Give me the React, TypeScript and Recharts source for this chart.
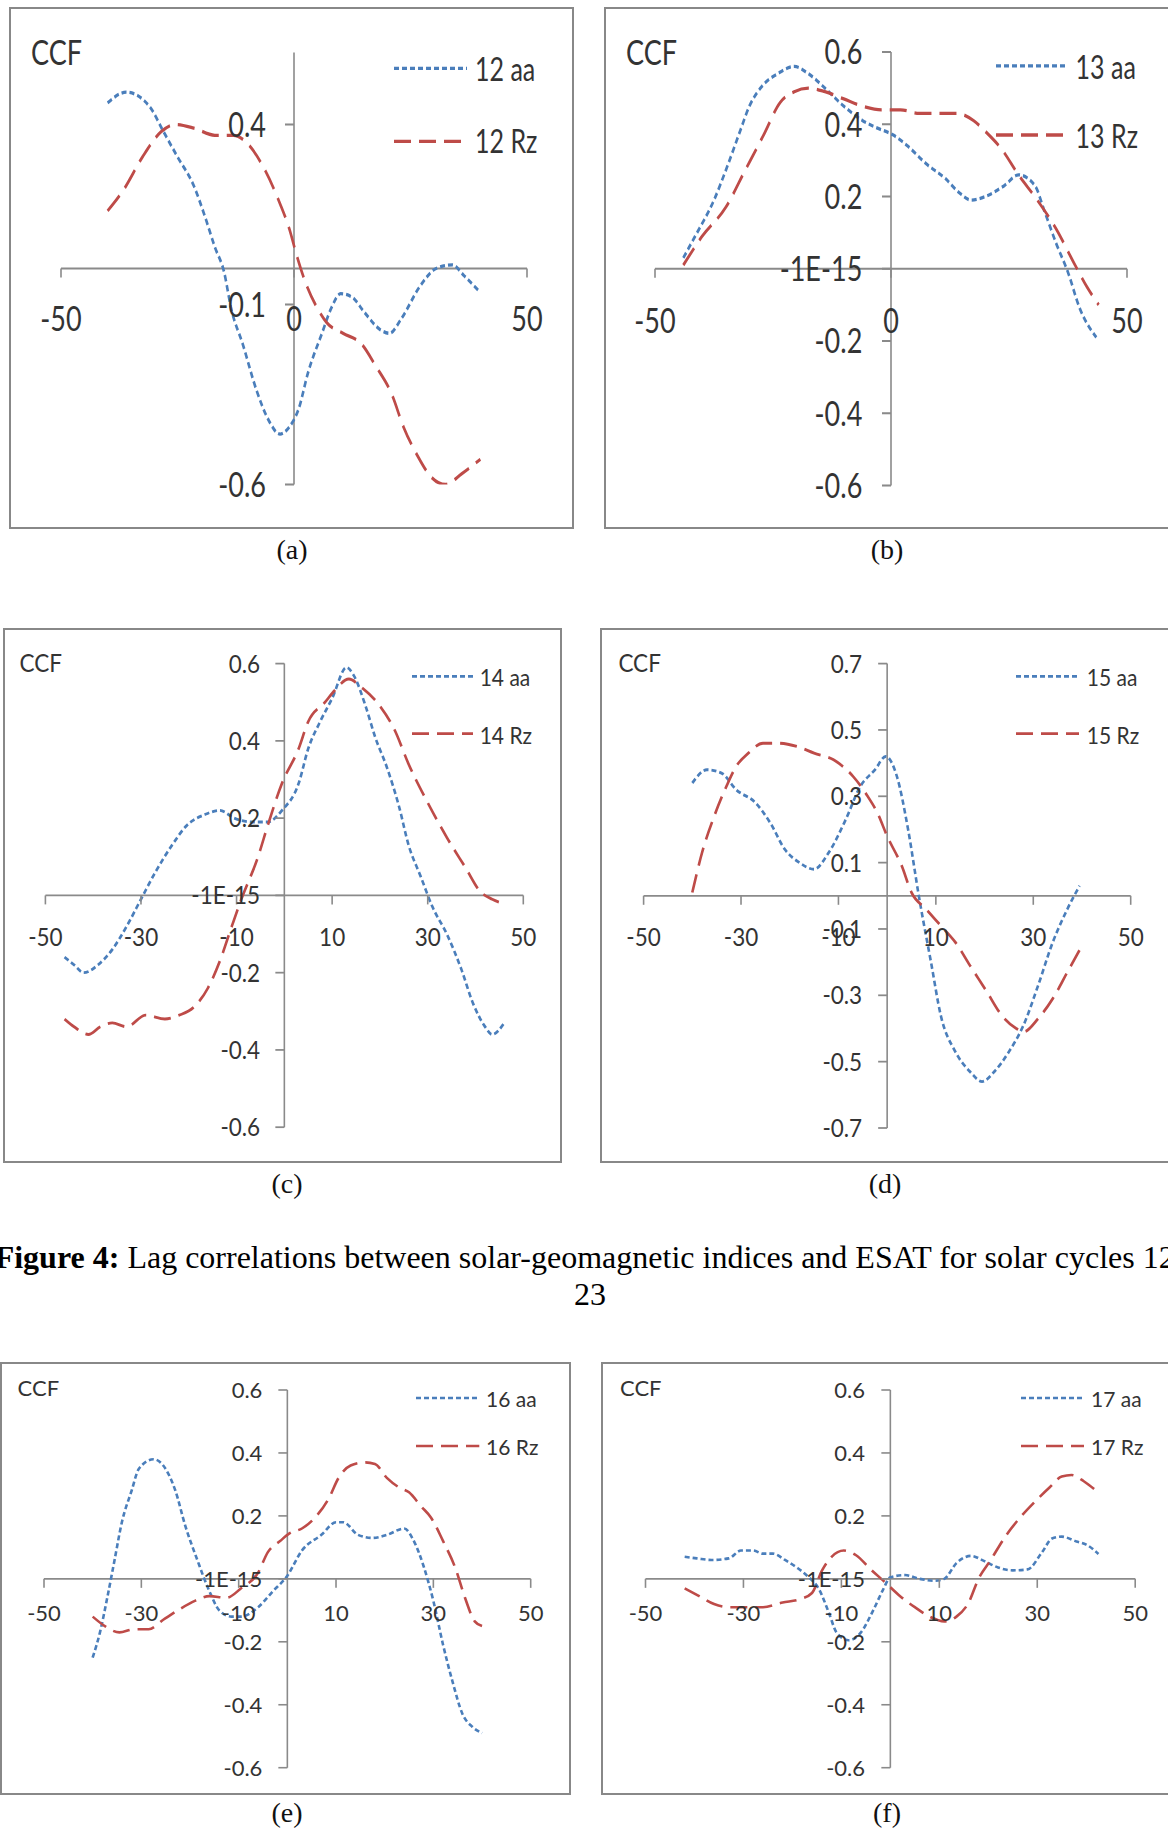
import React from 'react';
import { LineChart, Line, XAxis, YAxis, ReferenceLine, ReferenceDot, Legend } from 'recharts';

const BLUE = '#4a7ebb';
const RED = '#be4b48';
const AXIS = '#8a8a8a';
const TEXT = '#333333';
const SANS = 'Lato, "Open Sans", sans-serif';
const SERIF = '"Liberation Serif", "Times New Roman", serif';

// ---- data (lag in months, CCF) ----
const lag12aa = [-40, -36, -31, -28, -25, -21.5, -19, -17, -15, -13.5, -11, -8, -5.5, -3, -1, 1, 3, 6, 8, 10, 12.5, 15, 18.5, 20.5, 23, 27, 30.5, 34, 36.5, 39.5];
const ccf12aa = [0.46, 0.49, 0.45, 0.38, 0.31, 0.23, 0.14, 0.06, -0.01, -0.11, -0.21, -0.34, -0.42, -0.46, -0.44, -0.39, -0.29, -0.18, -0.11, -0.07, -0.08, -0.12, -0.17, -0.18, -0.14, -0.05, 0.0, 0.01, -0.02, -0.06];
const lag12Rz = [-40, -36.5, -32.5, -28.5, -25.5, -21.5, -17, -13, -9.5, -6.5, -3, -1, 0.5, 2.5, 5, 7, 10.5, 14.5, 17.5, 21, 23.5, 26.5, 29.5, 32.5, 36, 40];
const ccf12Rz = [0.16, 0.22, 0.31, 0.38, 0.4, 0.39, 0.37, 0.37, 0.34, 0.28, 0.18, 0.11, 0.04, -0.04, -0.11, -0.15, -0.18, -0.21, -0.27, -0.35, -0.44, -0.52, -0.58, -0.6, -0.57, -0.53];

const lag13aa = [-44, -41.5, -37.5, -34.5, -32, -30, -27, -24, -20.5, -17.5, -14, -10, -6, -3, 0.5, 3.5, 7.5, 11.5, 14.5, 17, 20, 24, 27, 30.5, 32.5, 35, 37.5, 40, 43.5];
const ccf13aa = [0.03, 0.09, 0.19, 0.29, 0.38, 0.45, 0.51, 0.54, 0.56, 0.54, 0.5, 0.45, 0.41, 0.39, 0.37, 0.34, 0.29, 0.25, 0.21, 0.19, 0.2, 0.23, 0.26, 0.23, 0.16, 0.07, -0.01, -0.11, -0.19];
const lag13Rz = [-44, -40, -35, -31, -27, -23.5, -20.5, -17.5, -14, -10, -6, -2, 2, 6, 10, 14, 17.5, 20, 23.5, 27, 31, 35, 39, 41.5, 44];
const ccf13Rz = [0.01, 0.09, 0.17, 0.27, 0.37, 0.46, 0.49, 0.5, 0.49, 0.47, 0.45, 0.44, 0.44, 0.43, 0.43, 0.43, 0.41, 0.38, 0.33, 0.26, 0.19, 0.11, 0.01, -0.05, -0.1];

const lag14aa = [-46, -44, -42, -39, -36, -33, -30, -27, -23.5, -20.5, -16.5, -13.5, -10.5, -6.5, -3.5, -0.5, 3, 5, 7.5, 10, 13, 14.5, 17, 19, 21.5, 24, 26, 28.5, 31, 34, 37, 39.5, 42, 43.5, 46];
const ccf14aa = [-0.16, -0.18, -0.2, -0.18, -0.14, -0.08, -0.01, 0.06, 0.13, 0.18, 0.21, 0.22, 0.2, 0.19, 0.19, 0.22, 0.29, 0.38, 0.45, 0.51, 0.59, 0.57, 0.49, 0.41, 0.33, 0.23, 0.13, 0.05, -0.03, -0.1, -0.19, -0.28, -0.34, -0.36, -0.33];
const lag14Rz = [-46, -44, -41, -38.5, -36, -33, -29, -25, -22, -19, -16, -13.5, -11, -9, -5.5, -3.5, -0.5, 3, 5, 8.5, 10.5, 13.5, 16, 20, 23, 26, 30, 34, 38, 41, 43.5, 45.5];
const ccf14Rz = [-0.32, -0.34, -0.36, -0.34, -0.33, -0.34, -0.31, -0.32, -0.31, -0.29, -0.24, -0.17, -0.08, -0.01, 0.1, 0.18, 0.29, 0.38, 0.45, 0.5, 0.53, 0.56, 0.54, 0.49, 0.43, 0.34, 0.24, 0.15, 0.07, 0.01, -0.01, -0.02];

const lag15aa = [-40, -37, -34, -31, -27, -24, -21, -18, -15, -12, -8.5, -5.5, -2.5, -0.3, 2, 4.3, 6.5, 9, 11, 14, 17, 19.5, 22, 25, 28, 31, 34, 37, 39.5];
const ccf15aa = [0.34, 0.38, 0.37, 0.32, 0.28, 0.22, 0.14, 0.1, 0.08, 0.13, 0.23, 0.33, 0.38, 0.42, 0.36, 0.2, 0.0, -0.2, -0.36, -0.47, -0.53, -0.56, -0.53, -0.47, -0.39, -0.27, -0.14, -0.04, 0.03];
const lag15Rz = [-40, -38, -35.5, -33, -31, -28.5, -25.5, -22.5, -18.5, -15, -11, -7, -4, -2, 0, 3, 5, 8, 11, 14, 17, 20.5, 23.5, 26.5, 28, 31, 34, 37, 40];
const ccf15Rz = [0.01, 0.13, 0.24, 0.33, 0.39, 0.43, 0.46, 0.46, 0.45, 0.43, 0.41, 0.36, 0.3, 0.25, 0.18, 0.09, 0.01, -0.04, -0.09, -0.14, -0.21, -0.29, -0.36, -0.4, -0.41, -0.37, -0.31, -0.23, -0.15];

const lag16aa = [-40, -38.5, -37, -35.5, -34, -32, -30.5, -27.5, -25.5, -23, -21, -18.5, -16, -14, -11.5, -9.5, -6, -3, 0, 3, 7, 10, 11.5, 14.5, 17.5, 20.5, 24, 26, 28, 30, 32, 34, 36, 38, 40];
const ccf16aa = [-0.25, -0.17, -0.06, 0.06, 0.18, 0.28, 0.35, 0.38, 0.36, 0.28, 0.17, 0.06, -0.04, -0.1, -0.12, -0.12, -0.09, -0.04, 0.01, 0.09, 0.14, 0.18, 0.18, 0.14, 0.13, 0.14, 0.16, 0.12, 0.04, -0.07, -0.21, -0.33, -0.43, -0.47, -0.49];
const lag16Rz = [-40, -37.5, -34.5, -31.5, -28.5, -25.5, -22.5, -19, -16, -12.5, -9.5, -6, -4, -1.5, 0.5, 3, 6, 8.5, 10.5, 13, 16, 18, 20.5, 23, 25, 27.5, 29.5, 32, 34.5, 36.5, 38.5, 40];
const ccf16Rz = [-0.12, -0.15, -0.17, -0.16, -0.16, -0.13, -0.1, -0.07, -0.055, -0.06, -0.03, 0.02, 0.085, 0.12, 0.145, 0.16, 0.2, 0.255, 0.32, 0.36, 0.37, 0.365, 0.32, 0.29, 0.275, 0.23, 0.195, 0.12, 0.035, -0.06, -0.135, -0.15];

const lag17aa = [-42, -39.5, -36.5, -33, -30.5, -28, -26, -24, -21.5, -19, -17, -14.5, -12.5, -11, -8.5, -6, -3.5, -1.5, 0, 3, 6, 9, 11, 13.5, 16.5, 19, 22, 25, 28, 31, 33, 35, 38, 40, 42.5];
const ccf17aa = [0.07, 0.065, 0.06, 0.065, 0.09, 0.09, 0.08, 0.08, 0.06, 0.035, 0.01, -0.035, -0.11, -0.17, -0.195, -0.17, -0.1, -0.035, 0.005, 0.012, 0.0, -0.006, 0.0, 0.05, 0.073, 0.058, 0.036, 0.027, 0.03, 0.085, 0.128, 0.134, 0.119, 0.109, 0.079];
const lag17Rz = [-42, -39, -36, -33, -30, -26, -22, -18.5, -16, -14, -12, -9.5, -7, -4, -1, 2, 5, 8, 11, 13.5, 16, 18, 20.5, 23.5, 26.5, 29.5, 32.5, 35, 37, 39.5, 42];
const ccf17Rz = [-0.03, -0.055, -0.08, -0.09, -0.09, -0.09, -0.075, -0.065, -0.045, 0.025, 0.07, 0.09, 0.075, 0.03, -0.012, -0.055, -0.09, -0.12, -0.135, -0.12, -0.075, 0.0, 0.06, 0.135, 0.195, 0.245, 0.29, 0.325, 0.33, 0.31, 0.28];

// ---- axis ticks ----
const xTicksCoarse = [-50, 0, 50];
const xTicksFine = [-50, -30, -10, 10, 30, 50];
const yTicksA = [0.4, -0.1, -0.6];
const yLabelsA = ['0.4', '-0.1', '-0.6'];
const yTicksSym = [0.6, 0.4, 0.2, 0, -0.2, -0.4, -0.6];
const yLabelsSym = ['0.6', '0.4', '0.2', '-1E-15', '-0.2', '-0.4', '-0.6'];
const yTicksD = [0.7, 0.5, 0.3, 0.1, -0.1, -0.3, -0.5, -0.7];
const yLabelsD = ['0.7', '0.5', '0.3', '0.1', '-0.1', '-0.3', '-0.5', '-0.7'];

const toPoints = (lags: number[], vals: number[]) => lags.map((x, i) => ({ x, y: vals[i] }));

type Box = { left: number; top: number; width: number; height: number };

type PanelProps = {
  box: Box;
  sy: number;
  x0: number; x1: number;
  yTop: number; yBot: number;
  yDomain: [number, number];
  yTicks: number[]; yLabels: string[];
  xTicks: number[];
  font: number; legendFont: number;
  yGap: number; xGap: number;
  ccf: { x: number; y: number };
  legend: { x: number; y1: number; y2: number; lineW: number; gap: number };
  names: [string, string];
  aa: { x: number; y: number }[];
  rz: { x: number; y: number }[];
  letter: string; letterX: number; letterY: number;
};

const TICK = 9;

const Panel: React.FC<PanelProps> = (p) => {
  const { box, sy } = p;
  const hn = box.height / sy;
  const margin = {
    left: p.x0 - box.left,
    right: box.left + box.width - p.x1,
    top: (p.yTop - box.top) / sy,
    bottom: (box.top + box.height - p.yBot) / sy,
  };
  const rowH = (p.legend.y2 - p.legend.y1) / sy;

  const xTickShape = (label: string) => (s: any) => (
    <g>
      <line x1={s.cx} y1={s.cy} x2={s.cx} y2={s.cy + TICK / sy} stroke={AXIS} strokeWidth={1.6} />
      <text x={s.cx} y={s.cy + p.xGap / sy} dy="0.36em" textAnchor="middle" fontFamily={SANS} fontSize={p.font} fill={TEXT}>{label}</text>
    </g>
  );
  const yTickShape = (label: string) => (s: any) => (
    <g>
      <line x1={s.cx - TICK} y1={s.cy} x2={s.cx} y2={s.cy} stroke={AXIS} strokeWidth={1.6} />
      <text x={s.cx - p.yGap} y={s.cy} dy="0.36em" textAnchor="end" fontFamily={SANS} fontSize={p.font} fill={TEXT}>{label}</text>
    </g>
  );

  // keep the series order of the figure: aa first, Rz second
  const order = (name: string) => p.names.indexOf(name);

  const legendContent = (props: any) => {
    const items = [...(props.payload || [])].sort((a: any, b: any) => order(a.value) - order(b.value));
    return (
      <div>
        {items.map((e: any, i: number) => (
          <div key={i} style={{ display: 'flex', alignItems: 'center', height: rowH }}>
            <svg width={p.legend.lineW} height={8} style={{ display: 'block' }}>
              <line x1={0} y1={4} x2={p.legend.lineW} y2={4} stroke={e.color} strokeWidth={2.6}
                strokeDasharray={e.payload && e.payload.strokeDasharray} />
            </svg>
            <span style={{ marginLeft: p.legend.gap, fontFamily: SANS, fontSize: p.legendFont, color: TEXT, lineHeight: 1, whiteSpace: 'nowrap' }}>{e.value}</span>
          </div>
        ))}
      </div>
    );
  };

  return (
    <>
      <div style={{ position: 'absolute', left: box.left, top: box.top, width: box.width, height: box.height }}>
        <div style={{ position: 'absolute', left: 0, top: 0, width: box.width, height: hn, transform: `scaleY(${sy})`, transformOrigin: '0 0' }}>
          <LineChart width={box.width} height={hn} margin={margin}>
            <XAxis type="number" dataKey="x" domain={[-50, 50]} hide allowDataOverflow />
            <YAxis type="number" dataKey="y" domain={p.yDomain} hide allowDataOverflow />
            <ReferenceLine y={0} stroke={AXIS} strokeWidth={1.6} />
            <ReferenceLine x={0} stroke={AXIS} strokeWidth={1.6} />
            {p.xTicks.map((t) => (
              <ReferenceDot key={'x' + t} x={t} y={0} r={1} shape={xTickShape(String(t))} />
            ))}
            {p.yTicks.map((t, i) => (
              <ReferenceDot key={'y' + t} x={0} y={t} r={1} shape={yTickShape(p.yLabels[i])} />
            ))}
            <Line data={p.aa} dataKey="y" name={p.names[0]} type="monotone" stroke={BLUE} strokeWidth={2.6}
              strokeDasharray="5 3" dot={false} activeDot={false} isAnimationActive={false} />
            <Line data={p.rz} dataKey="y" name={p.names[1]} type="monotone" stroke={RED} strokeWidth={2.6}
              strokeDasharray="17 8" dot={false} activeDot={false} isAnimationActive={false} />
            <Legend layout="vertical" align="center" verticalAlign="middle" content={legendContent}
              wrapperStyle={{ left: p.legend.x - box.left, top: (p.legend.y1 - box.top) / sy - rowH / 2, width: 'auto', height: 'auto' }} />
          </LineChart>
          <div style={{ position: 'absolute', left: p.ccf.x - box.left - 1, top: (p.ccf.y - box.top) / sy - 0.527 * p.font, fontFamily: SANS, fontSize: p.font, lineHeight: 1, color: TEXT }}>CCF</div>
        </div>
        <div style={{ position: 'absolute', inset: 0, border: '2px solid #888', boxSizing: 'border-box', pointerEvents: 'none' }} />
      </div>
      <div style={{ position: 'absolute', left: p.letterX - 50, top: p.letterY - 16.3, width: 100, textAlign: 'center', fontFamily: SERIF, fontSize: 28, lineHeight: '28px', color: '#111' }}>{p.letter}</div>
    </>
  );
};

const App: React.FC = () => {
  const row1 = { sy: 1.28, font: 27, legendFont: 25, yDomain: [-0.6, 0.6] as [number, number] };
  const row2 = { sy: 1.1, font: 22.5, legendFont: 21, xTicks: xTicksFine };
  const row3 = { sy: 1.0, font: 22, legendFont: 21, xTicks: xTicksFine, yDomain: [-0.6, 0.6] as [number, number], yTicks: yTicksSym, yLabels: yLabelsSym };

  return (
    <div style={{ position: 'absolute', left: 0, top: 0, width: 1168, height: 1830, overflow: 'hidden', background: '#fff' }}>
      <Panel {...row1} box={{ left: 9, top: 7, width: 565, height: 522 }} x0={61} x1={527} yTop={52.5} yBot={484.5}
        yTicks={yTicksA} yLabels={yLabelsA} xTicks={xTicksCoarse} yGap={28} xGap={50.5}
        ccf={{ x: 32, y: 52.7 }} legend={{ x: 394, y1: 69, y2: 141, lineW: 73, gap: 8 }}
        names={['12 aa', '12 Rz']} aa={toPoints(lag12aa, ccf12aa)} rz={toPoints(lag12Rz, ccf12Rz)}
        letter="(a)" letterX={292} letterY={552} />
      <Panel {...row1} box={{ left: 604, top: 7, width: 570, height: 522 }} x0={655} x1={1127} yTop={52} yBot={485.5}
        yTicks={yTicksSym} yLabels={yLabelsSym} xTicks={xTicksCoarse} yGap={28.7} xGap={51.6}
        ccf={{ x: 627, y: 52 }} legend={{ x: 995.5, y1: 66, y2: 135, lineW: 72.5, gap: 7.6 }}
        names={['13 aa', '13 Rz']} aa={toPoints(lag13aa, ccf13aa)} rz={toPoints(lag13Rz, ccf13Rz)}
        letter="(b)" letterX={887} letterY={552} />
      <Panel {...row2} box={{ left: 3, top: 628, width: 559, height: 535 }} x0={45.4} x1={523.3} yTop={663.6} yBot={1127.2}
        yDomain={[-0.6, 0.6]} yTicks={yTicksSym} yLabels={yLabelsSym} yGap={24.2} xGap={41.4}
        ccf={{ x: 20.5, y: 663.6 }} legend={{ x: 411.5, y1: 676.6, y2: 734, lineW: 61.5, gap: 6.7 }}
        names={['14 aa', '14 Rz']} aa={toPoints(lag14aa, ccf14aa)} rz={toPoints(lag14Rz, ccf14Rz)}
        letter="(c)" letterX={287} letterY={1186.5} />
      <Panel {...row2} box={{ left: 600, top: 628, width: 570, height: 535 }} x0={643.6} x1={1130.7} yTop={663.6} yBot={1128}
        yDomain={[-0.7, 0.7]} yTicks={yTicksD} yLabels={yLabelsD} yGap={25} xGap={41.4}
        ccf={{ x: 619.4, y: 663.6 }} legend={{ x: 1016, y1: 676.6, y2: 734, lineW: 63, gap: 7.8 }}
        names={['15 aa', '15 Rz']} aa={toPoints(lag15aa, ccf15aa)} rz={toPoints(lag15Rz, ccf15Rz)}
        letter="(d)" letterX={885} letterY={1186.5} />
      <Panel {...row3} box={{ left: 0, top: 1362, width: 571, height: 433 }} x0={44} x1={530.7} yTop={1390} yBot={1767.7}
        yGap={25} xGap={34.4}
        ccf={{ x: 18.6, y: 1388.8 }} legend={{ x: 416.4, y1: 1398.4, y2: 1446.2, lineW: 63.3, gap: 6.3 }}
        names={['16 aa', '16 Rz']} aa={toPoints(lag16aa, ccf16aa)} rz={toPoints(lag16Rz, ccf16Rz)}
        letter="(e)" letterX={287} letterY={1815} />
      <Panel {...row3} box={{ left: 601, top: 1362, width: 574, height: 433 }} x0={645.5} x1={1135.2} yTop={1390} yBot={1767.7}
        yGap={25.3} xGap={34.4}
        ccf={{ x: 621, y: 1388.8 }} legend={{ x: 1020.5, y1: 1398.4, y2: 1446.2, lineW: 63.3, gap: 7.2 }}
        names={['17 aa', '17 Rz']} aa={toPoints(lag17aa, ccf17aa)} rz={toPoints(lag17Rz, ccf17Rz)}
        letter="(f)" letterX={887} letterY={1815} />
      <div style={{ position: 'absolute', left: -10, top: 1238.7, width: 1200, textAlign: 'center', fontFamily: SERIF, fontSize: 32, lineHeight: '37px', whiteSpace: 'nowrap', color: '#000' }}>
        <b>Figure 4:</b> Lag correlations between solar-geomagnetic indices and ESAT for solar cycles 12-<br />23
      </div>
    </div>
  );
};

export default App;
